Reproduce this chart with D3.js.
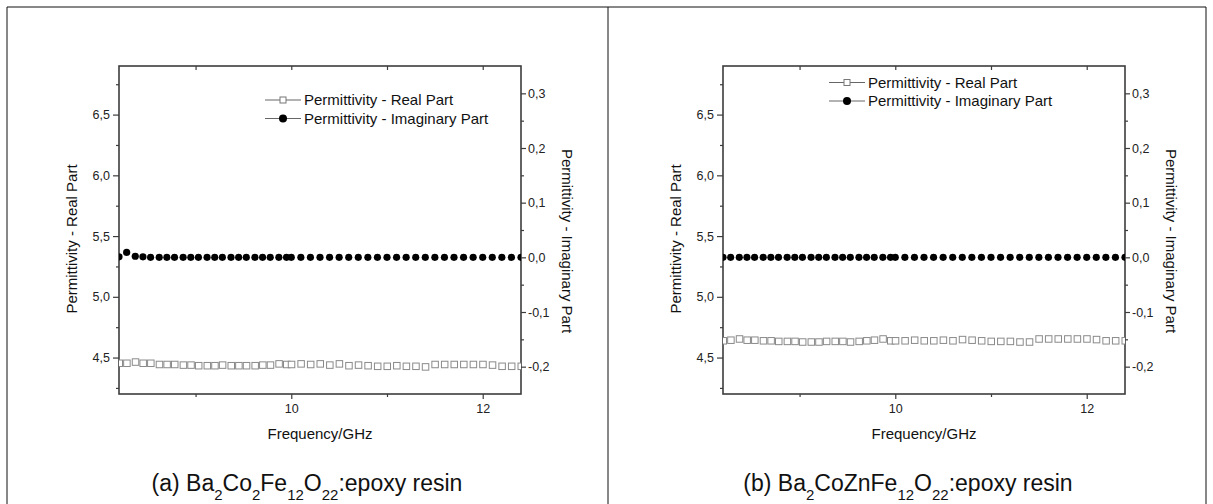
<!DOCTYPE html>
<html>
<head>
<meta charset="utf-8">
<script src="https://cdn.jsdelivr.net/npm/d3@7"></script>
<style>
  body { margin: 0; background: #fff; }
  svg { font-family: "Liberation Sans", Arial, sans-serif; }
</style>
</head>
<body>
<svg id="chart" width="1213" height="504"></svg>
<script>
// frequency points (GHz)
var freqGHz = [8.2, 8.28, 8.37, 8.45, 8.53, 8.62, 8.7, 8.78, 8.87, 8.95, 9.03,
  9.12, 9.2, 9.28, 9.37, 9.45, 9.53, 9.62, 9.7, 9.78, 9.87, 9.95, 10.0,
  10.1, 10.2, 10.3, 10.4, 10.5, 10.6, 10.7, 10.8, 10.9, 11.0, 11.1, 11.2,
  11.3, 11.4, 11.5, 11.6, 11.7, 11.8, 11.9, 12.0, 12.1, 12.2, 12.3, 12.4];

// (a) Ba2Co2Fe12O22
var realA = [4.455, 4.455, 4.465, 4.455, 4.455, 4.445, 4.445, 4.445, 4.44, 4.44,
  4.435, 4.435, 4.435, 4.44, 4.435, 4.435, 4.435, 4.435, 4.44, 4.44, 4.45, 4.445,
  4.445, 4.45, 4.445, 4.45, 4.44, 4.45, 4.435, 4.44, 4.435, 4.43, 4.43, 4.435,
  4.43, 4.43, 4.425, 4.445, 4.445, 4.445, 4.445, 4.445, 4.445, 4.44, 4.43, 4.43, 4.43];
var imagA = [0.001, 0.009, 0.002, 0.001, 0, 0, 0, 0, 0, 0, 0, 0, 0, 0, 0, 0,
  0, 0, 0, 0, 0, 0, 0, 0, 0, 0, 0, 0, 0, 0, 0, 0, 0, 0, 0, 0, 0, 0, 0, 0,
  0, 0, 0, 0, 0, 0, 0];

// (b) Ba2CoZnFe12O22
var realB = [4.64, 4.645, 4.655, 4.645, 4.645, 4.64, 4.64, 4.635, 4.635, 4.635,
  4.63, 4.63, 4.63, 4.635, 4.635, 4.635, 4.63, 4.635, 4.64, 4.645, 4.655, 4.64,
  4.64, 4.64, 4.645, 4.64, 4.64, 4.645, 4.64, 4.65, 4.645, 4.64, 4.635, 4.635,
  4.635, 4.63, 4.63, 4.655, 4.655, 4.655, 4.655, 4.655, 4.655, 4.65, 4.64, 4.64, 4.64];
var imagB = [0, 0, 0, 0, 0, 0, 0, 0, 0, 0, 0, 0, 0, 0, 0, 0, 0, 0, 0, 0, 0,
  0, 0, 0, 0, 0, 0, 0, 0, 0, 0, 0, 0, 0, 0, 0, 0, 0, 0, 0, 0, 0, 0, 0, 0, 0, 0];

var xMajor = [10, 12];
var xMinor = [9, 11];
var leftMajor = [4.5, 5.0, 5.5, 6.0, 6.5];
var leftMinor = [4.25, 4.75, 5.25, 5.75, 6.25, 6.75];
var rightMajor = [-0.2, -0.1, 0.0, 0.1, 0.2, 0.3];
var rightMinor = [-0.15, -0.05, 0.05, 0.15, 0.25];

var legendLabels = ["Permittivity - Real Part", "Permittivity - Imaginary Part"];

var svg = d3.select("#chart");
var fmt = d3.formatLocale({ decimal: ",", thousands: ".", grouping: [3], currency: ["", ""], minus: "-" }).format(".1f");
var axisColor = "#3c3c3c";

// table frame
[[7, 7, 1206, 7], [7, 7, 7, 504], [608, 7, 608, 504], [1206, 7, 1206, 504]].forEach(function (l) {
  svg.append("line").attr("x1", l[0]).attr("y1", l[1]).attr("x2", l[2]).attr("y2", l[3])
    .attr("stroke", "#111").attr("stroke-width", 1);
});

function drawPanel(id, left, real, imag, legX, legY, capX, caption) {
  var right = left + 402, top = 66, bottom = 394;
  var x = d3.scaleLinear().domain([8.2, 12.4]).range([left, right]);
  var yL = d3.scaleLinear().domain([4.2, 6.9]).range([bottom, top]);
  var yR = d3.scaleLinear().domain([-0.25, 0.35]).range([bottom, top]);
  var g = svg.append("g");

  g.append("clipPath").attr("id", "clip" + id)
    .append("rect").attr("x", left).attr("y", top).attr("width", right - left).attr("height", bottom - top);

  function styleAxis(sel) {
    sel.select(".domain").remove();
    sel.selectAll("line").attr("stroke", axisColor).attr("stroke-width", 1.2);
    sel.selectAll("text").attr("fill", "#222").style("font-size", "12.5px").style("font-family", "Liberation Sans, Arial, sans-serif");
  }

  // bottom axis
  g.append("g").attr("transform", "translate(0," + bottom + ")")
    .call(d3.axisBottom(x).tickValues(xMajor).tickSize(5).tickPadding(5).tickFormat(d3.format("d"))).call(styleAxis);
  g.append("g").attr("transform", "translate(0," + bottom + ")")
    .call(d3.axisBottom(x).tickValues(xMinor).tickSize(3).tickFormat("")).call(styleAxis);
  // top ticks (inward)
  g.append("g").attr("transform", "translate(0," + top + ")")
    .call(d3.axisBottom(x).tickValues(xMinor.concat(xMajor)).tickSize(4).tickFormat("")).call(styleAxis);

  // left axis
  g.append("g").attr("transform", "translate(" + left + ",0)")
    .call(d3.axisLeft(yL).tickValues(leftMajor).tickSize(6).tickPadding(3).tickFormat(fmt)).call(styleAxis);
  g.append("g").attr("transform", "translate(" + left + ",0)")
    .call(d3.axisLeft(yL).tickValues(leftMinor).tickSize(3).tickFormat("")).call(styleAxis);

  // right axis
  g.append("g").attr("transform", "translate(" + right + ",0)")
    .call(d3.axisRight(yR).tickValues(rightMajor).tickSize(5).tickPadding(2).tickFormat(fmt)).call(styleAxis);
  g.append("g").attr("transform", "translate(" + right + ",0)")
    .call(d3.axisRight(yR).tickValues(rightMinor).tickSize(3).tickFormat("")).call(styleAxis);

  // plot frame
  g.append("rect").attr("x", left).attr("y", top).attr("width", right - left).attr("height", bottom - top)
    .attr("fill", "none").attr("stroke", axisColor).attr("stroke-width", 1.6);

  var plot = g.append("g").attr("clip-path", "url(#clip" + id + ")");

  // real part: gray open squares
  plot.selectAll(".sq").data(real).enter().append("rect")
    .attr("x", function (d, i) { return x(freqGHz[i]) - 3; })
    .attr("y", function (d) { return yL(d) - 3; })
    .attr("width", 6.5).attr("height", 6.5)
    .attr("fill", "#fff").attr("stroke", "#8a8a8a").attr("stroke-width", 1);

  // imaginary part: black dots
  plot.selectAll(".dot").data(imag).enter().append("circle")
    .attr("cx", function (d, i) { return x(freqGHz[i]); })
    .attr("cy", function (d) { return yR(d); })
    .attr("r", 3.6).attr("fill", "#000");

  // legend
  legendLabels.forEach(function (lab, i) {
    var ly = legY + i * 18.5;
    g.append("line").attr("x1", legX).attr("x2", legX + 36).attr("y1", ly).attr("y2", ly)
      .attr("stroke", "#666").attr("stroke-width", 1);
    if (i === 0) {
      g.append("rect").attr("x", legX + 15).attr("y", ly - 3).attr("width", 6).attr("height", 6)
        .attr("fill", "#fff").attr("stroke", "#777");
    } else {
      g.append("circle").attr("cx", legX + 18).attr("cy", ly).attr("r", 4).attr("fill", "#000");
    }
    g.append("text").attr("x", legX + 39).attr("y", ly + 5).attr("fill", "#111")
      .style("font-size", "15px").text(lab);
  });

  // axis titles
  g.append("text").attr("transform", "translate(" + (left - 42) + ",239) rotate(-90)")
    .attr("text-anchor", "middle").attr("fill", "#111").style("font-size", "15px")
    .text("Permittivity - Real Part");
  g.append("text").attr("transform", "translate(" + (right + 41) + ",241) rotate(90)")
    .attr("text-anchor", "middle").attr("fill", "#111").style("font-size", "15px")
    .text("Permittivity - Imaginary Part");
  g.append("text").attr("x", (left + right) / 2).attr("y", 439)
    .attr("text-anchor", "middle").attr("fill", "#111").style("font-size", "15px")
    .text("Frequency/GHz");

  // caption with subscripts
  var cap = g.append("text").attr("x", capX).attr("y", 491).attr("text-anchor", "middle")
    .attr("fill", "#111").style("font-size", "23px");
  caption.forEach(function (part) {
    var t = cap.append("tspan").text(part[0]);
    if (part[1]) t.attr("baseline-shift", "sub").style("font-size", "15px");
  });
}

drawPanel("a", 119, realA, imagA, 265, 100, 307,
  [["(a) Ba"], ["2", 1], ["Co"], ["2", 1], ["Fe"], ["12", 1], ["O"], ["22", 1], [":epoxy resin"]]);
drawPanel("b", 723, realB, imagB, 829, 82.5, 908,
  [["(b) Ba"], ["2", 1], ["CoZnFe"], ["12", 1], ["O"], ["22", 1], [":epoxy resin"]]);
</script>
</body>
</html>
